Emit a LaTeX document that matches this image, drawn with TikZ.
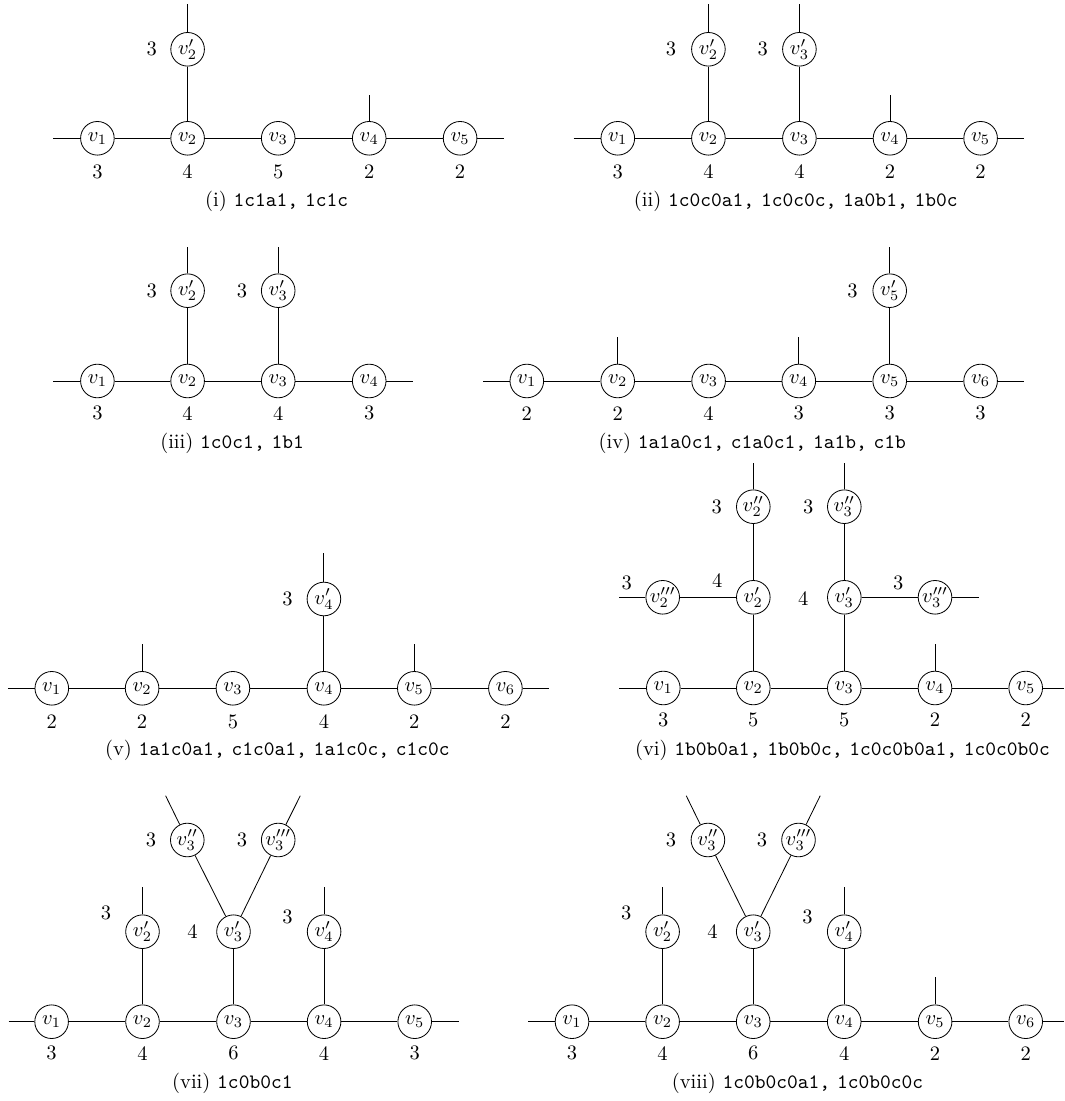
\documentclass[tikz,border=0pt]{standalone}
\begin{document}
\begin{tikzpicture}[x=0.4878pt,y=-0.4878pt,
  vx/.style={draw,circle,minimum size=16.4pt,inner sep=0pt},
  lab/.style={inner sep=0pt},
  captxt/.style={inner sep=0pt}]
\useasboundingbox (0,0) rectangle (1064,1101);
% ---------------- (i)
\node[vx] (i1) at (97.4,138.3) {$v_1$};
\node[vx] (i2) at (187.6,138.3) {$v_2$};
\node[vx] (i3) at (278.2,138.3) {$v_3$};
\node[vx] (i4) at (369.2,138.3) {$v_4$};
\node[vx] (i5) at (460.1,138.3) {$v_5$};
\node[vx] (i2p) at (187.6,49.3) {$v_2'$};
\coordinate (il) at (53.3,138.3);
\coordinate (ir) at (503.9,138.3);
\coordinate (it2) at (187.6,4);
\coordinate (it4) at (369.2,95);
\draw (il) -- (i1) -- (i2) -- (i3) -- (i4) -- (i5) -- (ir);
\draw (i2) -- (i2p) -- (it2);
\draw (i4) -- (it4);
\node[lab] (in1) at (97.4,171.7) {3};
\node[lab] (in2) at (187.6,171.7) {4};
\node[lab] (in3) at (278.2,171.7) {5};
\node[lab] (in4) at (369.2,171.7) {2};
\node[lab] (in5) at (460.1,171.7) {2};
\node[lab] (in2p) at (151.7,49.3) {3};
\node[captxt] (icap) at (276.6,201.7) {(i) \texttt{1c1a1,} \texttt{1c1c}};
% ---------------- (ii)
\node[vx] (ii1) at (617.8,138.3) {$v_1$};
\node[vx] (ii2) at (708.4,138.3) {$v_2$};
\node[vx] (ii3) at (799.4,138.3) {$v_3$};
\node[vx] (ii4) at (890,138.3) {$v_4$};
\node[vx] (ii5) at (980.6,138.3) {$v_5$};
\node[vx] (ii2p) at (708.4,49.3) {$v_2'$};
\node[vx] (ii3p) at (799.4,49.3) {$v_3'$};
\coordinate (iil) at (573.7,138.3);
\coordinate (iir) at (1024,138.3);
\coordinate (iit2) at (708.4,4);
\coordinate (iit3) at (799.4,4);
\coordinate (iit4) at (890,95);
\draw (iil) -- (ii1) -- (ii2) -- (ii3) -- (ii4) -- (ii5) -- (iir);
\draw (ii2) -- (ii2p) -- (iit2);
\draw (ii3) -- (ii3p) -- (iit3);
\draw (ii4) -- (iit4);
\node[lab] (iin1) at (617.8,171.7) {3};
\node[lab] (iin2) at (708.4,171.7) {4};
\node[lab] (iin3) at (799.4,171.7) {4};
\node[lab] (iin4) at (890,171.7) {2};
\node[lab] (iin5) at (980.6,171.7) {2};
\node[lab] (iin2p) at (671.1,49.3) {3};
\node[lab] (iin3p) at (762.7,49.3) {3};
\node[captxt] (iicap) at (795.8,201.7) {(ii) \texttt{1c0c0a1,} \texttt{1c0c0c,} \texttt{1a0b1,} \texttt{1b0c}};
% ---------------- (iii)
\node[vx] (iii1) at (97.4,381) {$v_1$};
\node[vx] (iii2) at (187.6,381) {$v_2$};
\node[vx] (iii3) at (278.2,381) {$v_3$};
\node[vx] (iii4) at (369.2,381) {$v_4$};
\node[vx] (iii2p) at (187.6,290.7) {$v_2'$};
\node[vx] (iii3p) at (278.2,290.7) {$v_3'$};
\coordinate (iiil) at (53.3,381);
\coordinate (iiir) at (413.3,381);
\coordinate (iiit2) at (187.6,246.7);
\coordinate (iiit3) at (278.2,246.7);
\draw (iiil) -- (iii1) -- (iii2) -- (iii3) -- (iii4) -- (iiir);
\draw (iii2) -- (iii2p) -- (iiit2);
\draw (iii3) -- (iii3p) -- (iiit3);
\node[lab] (iiin1) at (97.4,413.3) {3};
\node[lab] (iiin2) at (187.6,413.3) {4};
\node[lab] (iiin3) at (278.2,413.3) {4};
\node[lab] (iiin4) at (369.2,413.3) {3};
\node[lab] (iiin2p) at (151.7,290.7) {3};
\node[lab] (iiin3p) at (241.9,290.7) {3};
\node[captxt] (iiicap) at (232.1,443.3) {(iii) \texttt{1c0c1,} \texttt{1b1}};
% ---------------- (iv)
\node[vx] (iv1) at (526.8,381) {$v_1$};
\node[vx] (iv2) at (617.7,381) {$v_2$};
\node[vx] (iv3) at (708.6,381) {$v_3$};
\node[vx] (iv4) at (798.8,381) {$v_4$};
\node[vx] (iv5) at (889.7,381) {$v_5$};
\node[vx] (iv6) at (980.6,381) {$v_6$};
\node[vx] (iv5p) at (889.7,290.7) {$v_5'$};
\coordinate (ivl) at (483.3,381);
\coordinate (ivr) at (1024.2,381);
\coordinate (ivt2) at (617.7,337.3);
\coordinate (ivt4) at (798.8,337.3);
\coordinate (ivt5) at (889.7,246.7);
\draw (ivl) -- (iv1) -- (iv2) -- (iv3) -- (iv4) -- (iv5) -- (iv6) -- (ivr);
\draw (iv2) -- (ivt2);
\draw (iv4) -- (ivt4);
\draw (iv5) -- (iv5p) -- (ivt5);
\node[lab] (ivn1) at (526.8,413.3) {2};
\node[lab] (ivn2) at (617.7,413.3) {2};
\node[lab] (ivn3) at (708.6,413.3) {4};
\node[lab] (ivn4) at (798.8,413.3) {3};
\node[lab] (ivn5) at (889.7,413.3) {3};
\node[lab] (ivn6) at (980.6,413.3) {3};
\node[lab] (ivn5p) at (852.6,290.7) {3};
\node[captxt] (ivcap) at (752.3,443.3) {(iv) \texttt{1a1a0c1,} \texttt{c1a0c1,} \texttt{1a1b,} \texttt{c1b}};
% ---------------- (v)
\node[vx] (v1) at (51.8,688.3) {$v_1$};
\node[vx] (v2) at (142.1,688.3) {$v_2$};
\node[vx] (v3) at (232.9,688.3) {$v_3$};
\node[vx] (v4) at (323.9,688.3) {$v_4$};
\node[vx] (v5) at (414.3,688.3) {$v_5$};
\node[vx] (v6) at (505.4,688.3) {$v_6$};
\node[vx] (v4p) at (323.9,599) {$v_4'$};
\coordinate (vl) at (7.9,688.3);
\coordinate (vr) at (548.9,688.3);
\coordinate (vt2) at (142.1,644.3);
\coordinate (vt5) at (414.3,644.3);
\coordinate (vt4) at (323.9,553.3);
\draw (vl) -- (v1) -- (v2) -- (v3) -- (v4) -- (v5) -- (v6) -- (vr);
\draw (v2) -- (vt2);
\draw (v5) -- (vt5);
\draw (v4) -- (v4p) -- (vt4);
\node[lab] (vn1) at (51.8,721.7) {2};
\node[lab] (vn2) at (142.1,721.7) {2};
\node[lab] (vn3) at (232.9,721.7) {5};
\node[lab] (vn4) at (323.9,721.7) {4};
\node[lab] (vn5) at (414.3,721.7) {2};
\node[lab] (vn6) at (505.4,721.7) {2};
\node[lab] (vn4p) at (287.5,599) {3};
\node[captxt] (vcap) at (277.4,750.7) {(v) \texttt{1a1c0a1,} \texttt{c1c0a1,} \texttt{1a1c0c,} \texttt{c1c0c}};
% ---------------- (vi)
\node[vx] (vi1) at (663.3,688) {$v_1$};
\node[vx] (vi2) at (753.3,688) {$v_2$};
\node[vx] (vi3) at (844.3,688) {$v_3$};
\node[vx] (vi4) at (935,688) {$v_4$};
\node[vx] (vi5) at (1025.7,688) {$v_5$};
\node[vx] (vi2p) at (753.3,597.3) {$v_2'$};
\node[vx] (vi3p) at (844.3,597.3) {$v_3'$};
\node[vx] (vi2pp) at (753.3,506.7) {$v_2''$};
\node[vx] (vi3pp) at (844.3,506.7) {$v_3''$};
\node[vx] (vi2ppp) at (662.7,597.3) {$v_2'''$};
\node[vx] (vi3ppp) at (935,597.3) {$v_3'''$};
\coordinate (vil) at (619.3,688);
\coordinate (vir) at (1064,688);
\coordinate (vit4) at (935,644.3);
\coordinate (vit2) at (753.3,462.7);
\coordinate (vit3) at (844.3,462.7);
\coordinate (vil2) at (619.3,597.3);
\coordinate (vir3) at (979,597.3);
\draw (vil) -- (vi1) -- (vi2) -- (vi3) -- (vi4) -- (vi5) -- (vir);
\draw (vi4) -- (vit4);
\draw (vi2) -- (vi2p) -- (vi2pp) -- (vit2);
\draw (vi3) -- (vi3p) -- (vi3pp) -- (vit3);
\draw (vil2) -- (vi2ppp) -- (vi2p);
\draw (vi3p) -- (vi3ppp) -- (vir3);
\node[lab] (vin1) at (663.3,720) {3};
\node[lab] (vin2) at (753.3,720) {5};
\node[lab] (vin3) at (844.3,720) {5};
\node[lab] (vin4) at (935,720) {2};
\node[lab] (vin5) at (1025.7,720) {2};
\node[lab] (vin2pp) at (716.7,506.7) {3};
\node[lab] (vin3pp) at (808.3,506.7) {3};
\node[lab] (vin2ppp) at (626.7,583.3) {3};
\node[lab] (vin2p) at (717.3,581) {4};
\node[lab] (vin3p) at (803.3,599) {4};
\node[lab] (vin3ppp) at (898.3,583.3) {3};
\node[captxt] (vicap) at (842.5,750.7) {(vi) \texttt{1b0b0a1,} \texttt{1b0b0c,} \texttt{1c0c0b0a1,} \texttt{1c0c0b0c}};
% ---------------- (vii)
\node[vx] (vii1) at (51.6,1021.7) {$v_1$};
\node[vx] (vii2) at (142.5,1021.7) {$v_2$};
\node[vx] (vii3) at (233.5,1021.7) {$v_3$};
\node[vx] (vii4) at (324.1,1021.7) {$v_4$};
\node[vx] (vii5) at (414.7,1021.7) {$v_5$};
\node[vx] (vii2p) at (142.5,931.7) {$v_2'$};
\node[vx] (vii3p) at (233.5,931.7) {$v_3'$};
\node[vx] (vii4p) at (324.1,931.7) {$v_4'$};
\node[vx] (vii3pp) at (187.3,840) {$v_3''$};
\node[vx] (vii3ppp) at (278.2,840) {$v_3'''$};
\coordinate (viil) at (8.5,1021.7);
\coordinate (viir) at (458.8,1021.7);
\coordinate (viit2) at (142.5,886.7);
\coordinate (viit4) at (324.1,886.7);
\coordinate (viitl) at (165.6,795.7);
\coordinate (viitr) at (300.3,795.7);
\draw (viil) -- (vii1) -- (vii2) -- (vii3) -- (vii4) -- (vii5) -- (viir);
\draw (vii2) -- (vii2p) -- (viit2);
\draw (vii4) -- (vii4p) -- (viit4);
\draw (vii3) -- (vii3p);
\draw (vii3p) -- (vii3pp) -- (viitl);
\draw (vii3p) -- (vii3ppp) -- (viitr);
\node[lab] (viin1) at (51.6,1053.3) {3};
\node[lab] (viin2) at (142.5,1053.3) {4};
\node[lab] (viin3) at (233.5,1053.3) {6};
\node[lab] (viin4) at (324.1,1053.3) {4};
\node[lab] (viin5) at (414.7,1053.3) {3};
\node[lab] (viin3pp) at (151,840) {3};
\node[lab] (viin3ppp) at (241.9,840) {3};
\node[lab] (viin2p) at (105.9,913.3) {3};
\node[lab] (viin3p) at (192.4,931.7) {4};
\node[lab] (viin4p) at (287.4,916.7) {3};
\node[captxt] (viicap) at (232.4,1083.3) {(vii) \texttt{1c0b0c1}};
% ---------------- (viii)
\node[vx] (viii1) at (572,1021.7) {$v_1$};
\node[vx] (viii2) at (662.6,1021.7) {$v_2$};
\node[vx] (viii3) at (753.2,1021.7) {$v_3$};
\node[vx] (viii4) at (844.2,1021.7) {$v_4$};
\node[vx] (viii5) at (935.1,1021.7) {$v_5$};
\node[vx] (viii6) at (1025.7,1021.7) {$v_6$};
\node[vx] (viii2p) at (662.6,931.7) {$v_2'$};
\node[vx] (viii3p) at (753.2,931.7) {$v_3'$};
\node[vx] (viii4p) at (844.2,931.7) {$v_4'$};
\node[vx] (viii3pp) at (707.9,840) {$v_3''$};
\node[vx] (viii3ppp) at (798.5,840) {$v_3'''$};
\coordinate (viiil) at (528,1021.7);
\coordinate (viiir) at (1064,1021.7);
\coordinate (viiit2) at (662.6,886.7);
\coordinate (viiit4) at (844.2,886.7);
\coordinate (viiit5) at (935.1,977.3);
\coordinate (viiitl) at (686.2,795.7);
\coordinate (viiitr) at (820.2,795.7);
\draw (viiil) -- (viii1) -- (viii2) -- (viii3) -- (viii4) -- (viii5) -- (viii6) -- (viiir);
\draw (viii2) -- (viii2p) -- (viiit2);
\draw (viii4) -- (viii4p) -- (viiit4);
\draw (viii5) -- (viiit5);
\draw (viii3) -- (viii3p);
\draw (viii3p) -- (viii3pp) -- (viiitl);
\draw (viii3p) -- (viii3ppp) -- (viiitr);
\node[lab] (viiin1) at (572,1053.3) {3};
\node[lab] (viiin2) at (662.6,1053.3) {4};
\node[lab] (viiin3) at (753.2,1053.3) {6};
\node[lab] (viiin4) at (844.2,1053.3) {4};
\node[lab] (viiin5) at (935.1,1053.3) {2};
\node[lab] (viiin6) at (1025.7,1053.3) {2};
\node[lab] (viiin3pp) at (671.1,840) {3};
\node[lab] (viiin3ppp) at (762.1,840) {3};
\node[lab] (viiin2p) at (626.3,913.3) {3};
\node[lab] (viiin3p) at (712.5,931.7) {4};
\node[lab] (viiin4p) at (807.5,916.7) {3};
\node[captxt] (viiicap) at (797.5,1083.3) {(viii) \texttt{1c0b0c0a1,} \texttt{1c0b0c0c}};
\end{tikzpicture}
\end{document}
